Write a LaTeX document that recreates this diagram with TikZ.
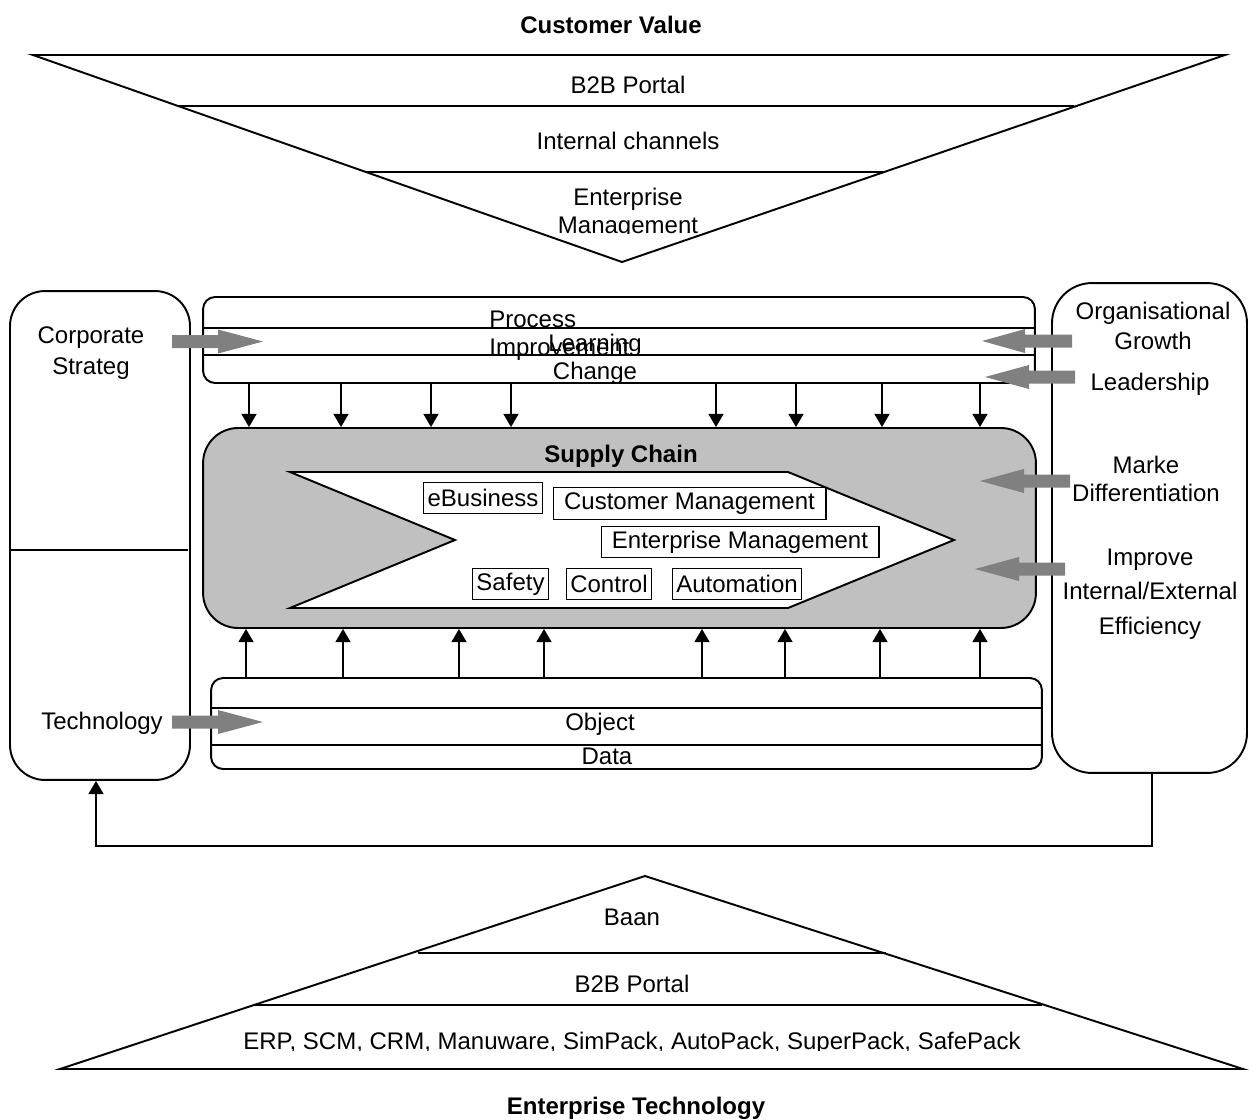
\documentclass[tikz,border=0pt]{standalone}
\usepackage{fontspec}
\setmainfont{Liberation Sans}
\usetikzlibrary{arrows.meta}
\definecolor{chainfill}{HTML}{C0C0C0}
\definecolor{flowgray}{HTML}{808080}

% grey block arrow: start x, head base x, tip x, centre y
\newcommand\flowarrow[4]{%
  \fill[flowgray] (#1,#4-6.5) -- (#2,#4-6.5) -- (#2,#4-12) -- (#3,#4)
    -- (#2,#4+12) -- (#2,#4+6.5) -- (#1,#4+6.5) -- cycle;}

\begin{document}
\begin{tikzpicture}[x=0.02cm, y=-0.02cm,
  every node/.style={inner sep=0pt, font=\fontsize{13.66}{15.9}\selectfont},
  outline/.style={line width=1.1pt, line join=miter},
  panel/.style={draw, line width=1.1pt, rectangle, rounded corners=#1},
  tag/.style={draw, line width=0.6pt, rectangle, inner xsep=2.3pt, inner ysep=0pt,
    minimum height=0.63cm},
  arr/.style={line width=1.1pt, -{Triangle[length=7.5pt,width=8.5pt]}},
  heading/.style={font=\fontsize{13.66}{15.9}\selectfont\bfseries}]

\useasboundingbox (0,0) rectangle (1259,1120);

% ---------- Customer value funnel ----------
\node[heading] (cv) at (611,25) {Customer Value};
\draw[outline] (33,55) -- (1225,55) -- (622,262) -- cycle;
\draw[outline] (178,106) -- (1074,106);
\draw[outline] (365,172) -- (883,172);
\node (b2btop) at (628,85) {B2B Portal};
\node (intch) at (628,141) {Internal channels};
\begin{scope}
  \clip (0,0) rectangle (1259,233);
  \node[align=center] (entm) at (628,213) {Enterprise\\Management};
\end{scope}

% ---------- side panels ----------
\node[panel=0.7cm, minimum width=3.6cm, minimum height=9.78cm] (strat) at (100,535.5) {};
\draw[outline] (10,550) -- (188,550);
\node[align=center, font=\fontsize{13.66}{18}\selectfont] (corp) at (91,353) {Corporate\\Strateg};
\node (tech) at (102,723) {Technology};

\node[panel=0.8cm, minimum width=3.9cm, minimum height=9.8cm] (org) at (1149.5,528) {};
\node[align=center, font=\fontsize{13.66}{17}\selectfont] (orgg) at (1153,326) {Organisational\\Growth};
\node (lead) at (1150,384) {Leadership};
\node[align=center] (mark) at (1146,479) {Marke\\Differentiation};
\node[align=center, font=\fontsize{13.66}{19.5}\selectfont] (impr) at (1150,594) {Improve\\Internal/External\\Efficiency};

% ---------- process layer ----------
\node[panel=0.24cm, minimum width=16.64cm, minimum height=1.72cm] (proc) at (619,340) {};
\draw[outline] (203,328) -- (1035,328);
\draw[outline] (203,355) -- (1035,355);
\node[align=left, anchor=west] (pimp) at (489,336) {Process\\Improvement};
\node[align=center] (lch) at (595,359) {Learning\\Change};

% ---------- supply chain ----------
\node[panel=0.7cm, fill=chainfill, minimum width=16.66cm, minimum height=4cm] (sc) at (619.5,528) {};
\node[heading] (sct) at (621,456) {Supply Chain};
\draw[outline, fill=white] (290,472) -- (788,472) -- (954,540) -- (788,608)
  -- (290,608) -- (455,540) -- cycle;
\node[tag] (ebus) at (483,498) {eBusiness};
\node[tag, minimum width=5.46cm] (custm) at (689.5,503.5) {Customer Management};
\node[tag, minimum width=5.56cm] (entmg) at (740,542) {Enterprise Management};
\node[tag] (safe) at (510.5,584) {Safety};
\node[tag] (ctrl) at (609,584) {Control};
\node[tag] (auto) at (737,584) {Automation};

% ---------- object / data layer ----------
\node[panel=0.24cm, minimum width=16.62cm, minimum height=1.82cm] (data) at (626.5,723.5) {};
\draw[outline] (211,708) -- (1042,708);
\draw[outline] (211,745) -- (1042,745);
\node (obj) at (600,724) {Object};
\node (dat) at (607,756) {Data};

% ---------- vertical flows ----------
\foreach \x in {249,341,431,511,716,796,882,980} {
  \path (\x,0) coordinate (dn);
  \draw[arr] (proc.south -| dn) -- (sc.north -| dn);
}
\foreach \x in {246,343,459,544,702,785,880,980} {
  \path (\x,0) coordinate (up);
  \draw[arr] (data.north -| up) -- (sc.south -| up);
}

% ---------- feedback loop ----------
\coordinate (fbR) at (1152,846);
\coordinate (fbL) at (96,846);
\draw[arr] (org.south -| fbR) -- (fbR) -- (fbL) -- (strat.south -| fbL);

% ---------- grey influence arrows ----------
\flowarrow{172}{218}{263}{341.5}
\flowarrow{172}{218}{263}{722}
\flowarrow{1072}{1025}{982}{341}
\flowarrow{1075}{1029}{985}{377}
\flowarrow{1070}{1024}{980}{481}
\flowarrow{1065}{1019}{975}{569}

% ---------- enterprise technology pyramid ----------
\draw[outline] (645,876) -- (1243,1069) -- (60,1069) -- cycle;
\draw[outline] (418,953) -- (886,953);
\draw[outline] (255,1005) -- (1042,1005);
\node (baan) at (632,917) {Baan};
\node (b2bbot) at (632,984) {B2B Portal};
\begin{scope}
  \clip (0,0) rectangle (1259,1050);
  \node (erp) at (632,1043) {ERP, SCM, CRM, Manuware, SimPack, AutoPack, SuperPack, SafePack};
\end{scope}
\node[heading] (et) at (636,1108) {Enterprise Technology};

\end{tikzpicture}
\end{document}
